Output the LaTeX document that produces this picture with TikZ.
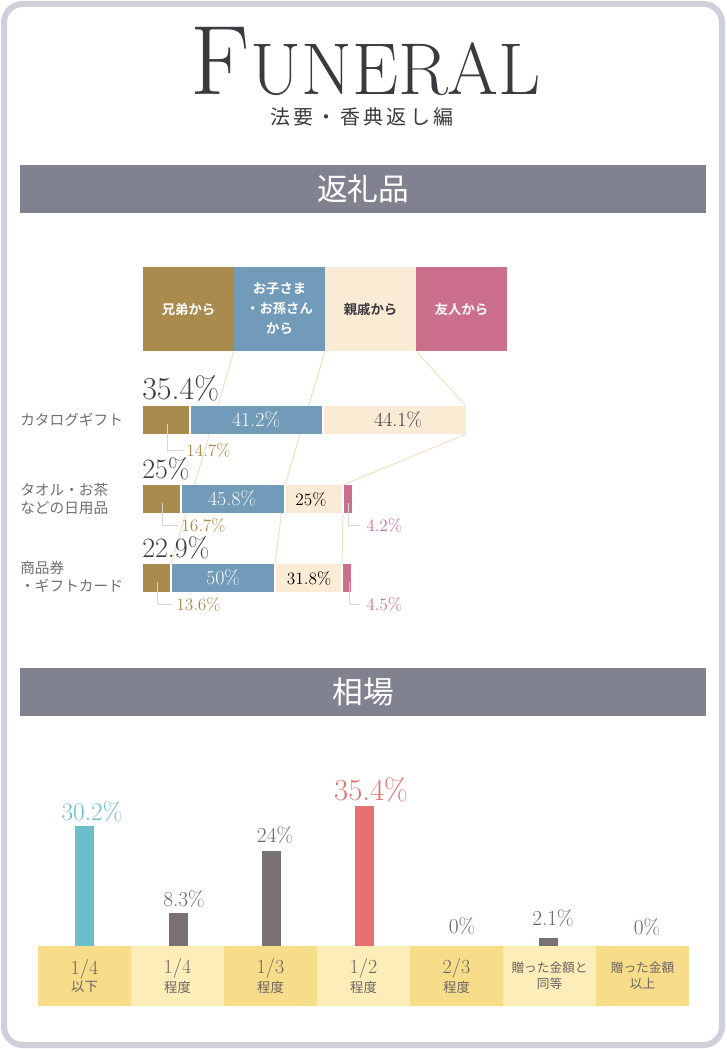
\documentclass[tikz,border=0pt]{standalone}
\usepackage{fontspec}
\newfontfamily\jp{Noto Sans CJK JP}
\newfontfamily\jpb{Noto Sans CJK JP Bold}
\definecolor{frame}{HTML}{CFD0DA}
\definecolor{sec}{HTML}{80828F}
\definecolor{gold}{HTML}{A98B4E}
\definecolor{blu}{HTML}{719BB8}
\definecolor{crm}{HTML}{FAEBD5}
\definecolor{pnk}{HTML}{CC6F8D}
\definecolor{lin}{HTML}{F3DDBC}
\definecolor{txt}{HTML}{3A3A40}
\definecolor{gtx}{HTML}{6F6F72}
\definecolor{teal}{HTML}{6BBFCB}
\definecolor{gbar}{HTML}{7A7173}
\definecolor{red}{HTML}{E5706F}
\definecolor{cd}{HTML}{F7DC8A}
\definecolor{cl}{HTML}{FDEDB8}
\definecolor{cdl}{HTML}{6B6464}
\definecolor{call}{HTML}{D6D6D6}
\tikzset{
 pct/.style={font=\fontsize{15}{15}\selectfont,inner sep=0pt},
 big/.style={font=\fontsize{21}{21}\selectfont,text=txt,inner sep=0pt,anchor=base west},
 lab/.style={font=\jp\fontsize{11}{13.5}\selectfont,text=gtx,align=left,anchor=west,inner sep=0pt},
 leg/.style={font=\jpb\fontsize{10}{15}\selectfont,align=center},
 callout/.style={draw=call,line width=0.6pt},
 small/.style={font=\fontsize{13}{13}\selectfont},
 cell/.style={align=center,text=cdl,inner sep=0pt},
 barlab/.style={font=\fontsize{16}{16}\selectfont,text=cdl,inner sep=0pt,anchor=base},
}
\begin{document}
\begin{tikzpicture}[x=0.75pt,y=-0.75pt]
\useasboundingbox (0,0) rectangle (726,1049);
\draw[frame,line width=4.5pt,fill=white,rounded corners=14pt] (4,4) rectangle (722,1045);
% title
\node[text=txt,anchor=base,inner sep=0pt] (title) at (366,94) {\fontsize{74}{74}\selectfont F\fontsize{55}{55}\selectfont UNERAL};
\node[text=txt,font=\jp\fontsize{15}{15}\selectfont] (sub) at (362,117) {法\,要\,・\,香\,典\,返\,し\,編};
% section 1
\node[fill=sec,minimum width=686*0.75pt,minimum height=48*0.75pt,inner sep=0pt,text=white,font=\jp\fontsize{23}{23}\selectfont] (s1) at (363,189) {返礼品};
% connector lines
\draw[lin,line width=0.7pt] (234,351) -- (171,564);
\draw[lin,line width=0.7pt] (325,351) -- (285,485) -- (275,564);
\draw[lin,line width=0.7pt] (416,351) -- (466,406) (466,434) -- (343,485) (343,513) -- (342,564);
% legend
\node[fill=gold,minimum width=91*0.75pt,minimum height=84*0.75pt,leg,text=white] (l1) at (188.5,309) {兄弟から};
\node[fill=blu,minimum width=91*0.75pt,minimum height=84*0.75pt,leg,text=white] (l2) at (279.5,309) {お子さま\\・お孫さん\\から};
\node[fill=crm,minimum width=91*0.75pt,minimum height=84*0.75pt,leg,text=txt] (l3) at (370.5,309) {親戚から};
\node[fill=pnk,minimum width=91*0.75pt,minimum height=84*0.75pt,leg,text=white] (l4) at (461.5,309) {友人から};
% row 1
\fill[gold] (143,406) rectangle (190,434);
\fill[blu] (190,406) rectangle (323,434);
\fill[crm] (323,406) rectangle (466,434);
\draw[white,line width=0.8pt] (190,406)--(190,434) (323,406)--(323,434);
\node[lab] (r1) at (20,420) {カタログギフト};
\node[big,font=\fontsize{24}{24}\selectfont] (p1) at (142,399) {35.4\%};
\node[pct,text=white] at (256,420) {41.2\%};
\node[pct,text=txt] at (398,420) {44.1\%};
\draw[callout] (167,424) -- (167,450) -- (183,450);
\node[pct,text=gold,anchor=west,small] at (186,450) {14.7\%};
% row 2
\fill[gold] (143,485) rectangle (181,513);
\fill[blu] (181,485) rectangle (285,513);
\fill[crm] (285,485) rectangle (343,513);
\fill[pnk] (343,485) rectangle (352,513);
\draw[white,line width=0.8pt] (181,485)--(181,513) (285,485)--(285,513) (343,485)--(343,513);
\node[lab] (r2) at (20,499) {タオル・お茶\\などの日用品};
\node[big] (p2) at (142,478) {25\%};
\node[pct,text=white] at (232,499) {45.8\%};
\node[pct,text=black,small] at (311,499) {25\%};
\draw[callout] (162,503) -- (162,525) -- (178,525);
\node[pct,text=gold,anchor=west,small] at (181,525) {16.7\%};
\draw[callout] (348,503) -- (348,525) -- (360,525);
\node[pct,text=pnk,anchor=west,small] at (366,525) {4.2\%};
% row 3
\fill[gold] (143,564) rectangle (171,592);
\fill[blu] (171,564) rectangle (275,592);
\fill[crm] (275,564) rectangle (342,592);
\fill[pnk] (342,564) rectangle (351,592);
\draw[white,line width=0.8pt] (171,564)--(171,592) (275,564)--(275,592) (342,564)--(342,592);
\node[lab] (r3) at (20,577) {商品券\\・ギフトカード};
\node[big] (p3) at (142,557) {22.9\%};
\node[pct,text=white] at (223,578) {50\%};
\node[pct,text=black,small] at (309,578) {31.8\%};
\draw[callout] (157,582) -- (157,604) -- (172,604);
\node[pct,text=gold,anchor=west,small] at (176,604) {13.6\%};
\draw[callout] (349,582) -- (349,604) -- (360,604);
\node[pct,text=pnk,anchor=west,small] at (366,604) {4.5\%};
% section 2
\node[fill=sec,minimum width=686*0.75pt,minimum height=48*0.75pt,inner sep=0pt,text=white,font=\jp\fontsize{23}{23}\selectfont] (s2) at (363,692) {相場};
% cells
\foreach \i/\c/\t in {0/cd/{\fontsize{15}{15}\selectfont 1/4\\[1pt]\jp\fontsize{10}{10}\selectfont 以下},
  1/cl/{\fontsize{15}{15}\selectfont 1/4\\[1pt]\jp\fontsize{10}{10}\selectfont 程度},
  2/cd/{\fontsize{15}{15}\selectfont 1/3\\[1pt]\jp\fontsize{10}{10}\selectfont 程度},
  3/cl/{\fontsize{15}{15}\selectfont 1/2\\[1pt]\jp\fontsize{10}{10}\selectfont 程度},
  4/cd/{\fontsize{15}{15}\selectfont 2/3\\[1pt]\jp\fontsize{10}{10}\selectfont 程度},
  5/cl/{\jp\fontsize{9.5}{13}\selectfont 贈った金額と\\\jp\fontsize{9.5}{13}\selectfont 同等},
  6/cd/{\jp\fontsize{9.5}{13}\selectfont 贈った金額\\\jp\fontsize{9.5}{13}\selectfont 以上}}{
  \fill[\c] ({38+93*\i},946) rectangle ({131+93*\i},1006);
  \node[cell] (c\i) at ({84.5+93*\i},976) {\t};
}
% bars
\fill[teal] (75,826) rectangle (94,946);
\fill[gbar] (169,913) rectangle (188,946);
\fill[gbar] (262,851) rectangle (281,946);
\fill[red] (355,806) rectangle (374,946);
\fill[gbar] (539,938) rectangle (558,946);
\node[barlab,text=teal,font=\fontsize{19}{19}\selectfont] at (92,820) {30.2\%};
\node[barlab] at (184,906) {8.3\%};
\node[barlab] at (275,842) {24\%};
\node[barlab,text=red,font=\fontsize{23}{23}\selectfont] at (371,800) {35.4\%};
\node[barlab] at (462,933) {0\%};
\node[barlab] at (553,925) {2.1\%};
\node[barlab] at (647,934) {0\%};
\end{tikzpicture}
\end{document}
